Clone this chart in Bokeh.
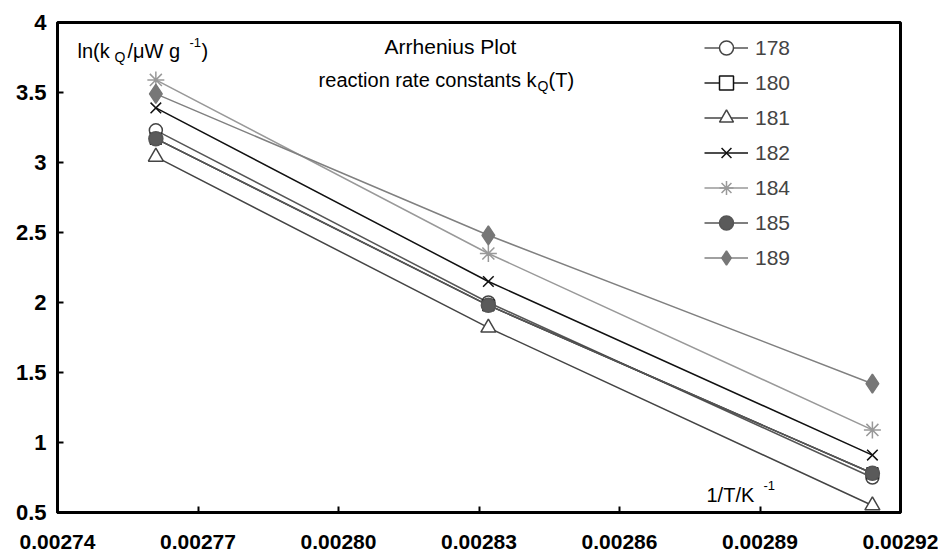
from bokeh.plotting import figure
from bokeh.models import Legend, LegendItem, FixedTicker, Label
from bokeh.embed import file_html
from bokeh.resources import INLINE

# ---- data ----
inv_T = [0.002761, 0.002832, 0.002914]
series_names = ["178", "180", "181", "182", "184", "185", "189"]
s178 = [3.23, 2.00, 0.75]
s180 = [3.17, 1.98, 0.78]
s181 = [3.04, 1.82, 0.55]
s182 = [3.39, 2.15, 0.91]
s184 = [3.59, 2.35, 1.09]
s185 = [3.17, 1.98, 0.78]
s189 = [3.49, 2.48, 1.42]
x_ticks = [0.00274, 0.00277, 0.00280, 0.00283, 0.00286, 0.00289, 0.00292]
x_tick_labels = ["0.00274", "0.00277", "0.00280", "0.00283", "0.00286", "0.00289", "0.00292"]
y_ticks = [0.5, 1, 1.5, 2, 2.5, 3, 3.5, 4]
y_tick_labels = ["0.5", "1", "1.5", "2", "2.5", "3", "3.5", "4"]

X0, X1 = 0.00274, 0.00292
Y0, Y1 = 0.5, 4.0

W, H = 938, 556
FL, FR, FT, FB = 57, 900, 22, 512  # frame in page pixels


def px(xp):
    return X0 + (xp - FL) / (FR - FL) * (X1 - X0)


def py(yp):
    return Y1 - (yp - FT) / (FB - FT) * (Y1 - Y0)


p = figure(width=W, height=H, x_range=(X0, X1), y_range=(Y0, Y1),
           output_backend="svg", toolbar_location=None,
           min_border_left=FL, min_border_right=W - FR,
           min_border_top=FT, min_border_bottom=H - FB)
p.xgrid.visible = False
p.ygrid.visible = False
p.outline_line_color = "black"
p.outline_line_width = 3
p.background_fill_color = "white"
p.border_fill_color = "white"

FONT = "Liberation Sans"
for ax in (p.xaxis[0], p.yaxis[0]):
    ax.axis_line_width = 3
    ax.axis_line_color = "black"
    ax.major_tick_in = 6
    ax.major_tick_out = 0
    ax.major_tick_line_width = 2
    ax.minor_tick_line_color = None
    ax.major_label_text_font = FONT
    ax.major_label_text_font_style = "bold"
    ax.major_label_text_font_size = "21px"
    ax.major_label_text_color = "black"

p.xaxis.ticker = FixedTicker(ticks=x_ticks)
p.xaxis.major_label_overrides = {t: l for t, l in zip(x_ticks, x_tick_labels)}
p.xaxis.major_label_standoff = 22
p.yaxis.ticker = FixedTicker(ticks=y_ticks)
p.yaxis.major_label_overrides = {t: l for t, l in zip(y_ticks, y_tick_labels)}
p.yaxis.major_label_standoff = 11
p.yaxis.major_label_text_font_size = "22px"

styles = {
    "178": dict(marker="circle", size=13, line_color="#444444", fill_color="white", lc="#555555"),
    "180": dict(marker="square", size=11, line_color="#111111", fill_color="white", lc="#222222"),
    "181": dict(marker="triangle", size=15, line_color="#444444", fill_color="white", lc="#444444"),
    "182": dict(marker="x", size=15, line_color="#111111", fill_color=None, lc="#111111"),
    "184": dict(marker="asterisk", size=17, line_color="#999999", fill_color=None, lc="#999999"),
    "185": dict(marker="circle", size=14, line_color="#555555", fill_color="#5a5a5a", lc="#555555"),
    "189": dict(marker="diamond", size=19, line_color="#777777", fill_color="#777777", lc="#808080"),
}
data = {"178": s178, "180": s180, "181": s181, "182": s182,
        "184": s184, "185": s185, "189": s189}

items = []
for name in series_names:
    st = styles[name]
    ln = p.line(inv_T, data[name], line_color=st["lc"], line_width=1.5)
    sc = p.scatter(inv_T, data[name], marker=st["marker"], size=st["size"],
                   line_color=st["line_color"], fill_color=st["fill_color"],
                   line_width=1.5)
    items.append(LegendItem(label=name, renderers=[ln, sc]))

legend = Legend(items=items, location=(704 - FL, FB - 30 - 7 * 35), orientation="vertical",
                glyph_width=44, glyph_height=35, label_height=35, spacing=0,
                label_standoff=7, padding=0, margin=0,
                label_text_font=FONT, label_text_font_size="21px",
                border_line_color=None, background_fill_alpha=0)
p.add_layout(legend, "center")


def lab(text, xp, yp, size, align="left", base="middle"):
    p.add_layout(Label(x=px(xp), y=py(yp), text=text, text_font=FONT,
                       text_font_size=size, text_align=align, text_baseline=base,
                       text_color="black"))


# y-axis title inside plot
lab("ln(k", 77, 50, "20px")
lab("Q", 114, 56, "14px")
lab("/\u03bcW g", 127, 50, "20px")
lab("-1", 189, 42, "13px")
lab(")", 201, 50, "20px")

# chart title
lab("Arrhenius Plot", 450, 46, "21px", align="center")
lab("reaction rate constants k", 536, 79, "20px", align="right")
lab("Q", 537, 85, "14px")
lab("(T)", 548, 79, "20px")

# x-axis title inside plot
lab("1/T/K", 706, 494, "20px")
lab("-1", 763, 485, "13px")

open("out.html", "w").write(file_html(p, INLINE))
